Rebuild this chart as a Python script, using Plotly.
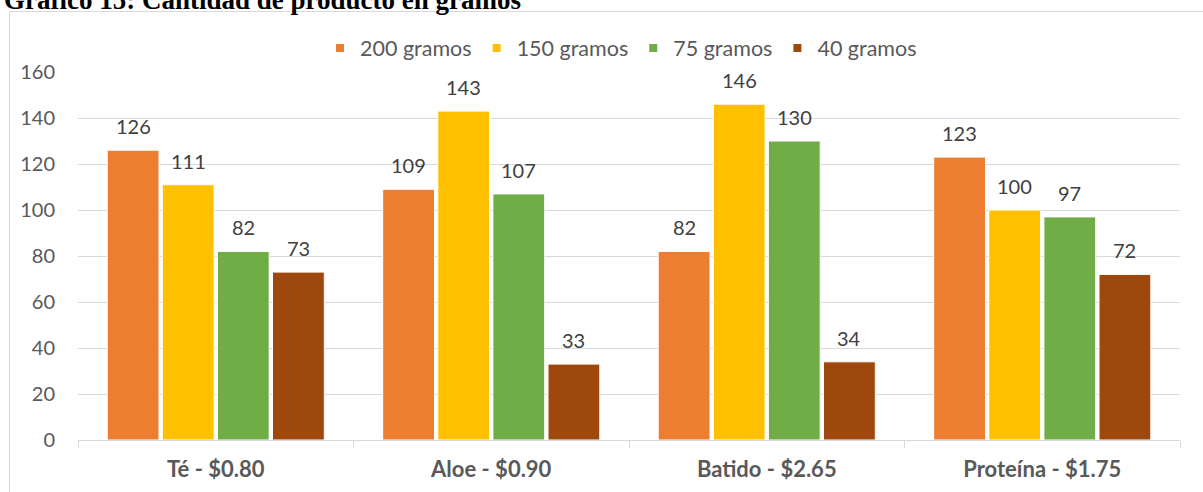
import plotly.graph_objects as go

# Product quantities sold by package size
categories = ["Té - $0.80", "Aloe - $0.90", "Batido - $2.65", "Proteína - $1.75"]
series_names = ["200 gramos", "150 gramos", "75 gramos", "40 gramos"]
g200 = [126, 109, 82, 123]
g150 = [111, 143, 146, 100]
g75 = [82, 107, 130, 97]
g40 = [73, 33, 34, 72]
y_ticks = [0, 20, 40, 60, 80, 100, 120, 140, 160]

series_values = [g200, g150, g75, g40]
colors = ["#ED7D31", "#FFC000", "#70AD47", "#9E480E"]

W, H = 1203, 492
M_L, M_R, M_T, M_B = 78, 23, 72, 52
plot_w = W - M_L - M_R
plot_h = H - M_T - M_B
BARGAP, GROUPGAP = 0.2, 0.06


def px_x(px):
    return (px - M_L) / plot_w


def px_y(py):
    return (H - M_B - py) / plot_h


FONT = "Lato"
fig = go.Figure()

for name, vals, col in zip(series_names, series_values, colors):
    fig.add_trace(go.Bar(
        x=categories, y=vals, name=name, showlegend=False,
        marker=dict(color=col, line=dict(color="white", width=1)),
        hoverinfo="x+y+name",
    ))

# legend entries with small square swatches
for name, col in zip(series_names, colors):
    fig.add_trace(go.Scatter(
        x=[None], y=[None], mode="markers", name=name,
        marker=dict(symbol="square", size=8, color=col),
    ))

# value labels above each bar
slot = plot_w / len(categories) * (1 - BARGAP) / len(series_names)
annotations = []
for i, vals in enumerate(series_values):
    offset = (i - (len(series_names) - 1) / 2) * slot
    for cat, v in zip(categories, vals):
        annotations.append(dict(
            x=cat, y=v, text=str(v), showarrow=False,
            xshift=offset, yshift=24, yanchor="middle",
            font=dict(family=FONT, size=20, color="#404040"),
        ))

annotations.append(dict(
    xref="paper", yref="paper", x=px_x(2), y=px_y(-0.5),
    xanchor="left", yanchor="middle", showarrow=False,
    text="<b>Gráfico 15: Cantidad de producto en gramos</b>",
    font=dict(family="Liberation Serif", size=27, color="#000000"),
))

# chart frame
shapes = [
    dict(type="line", xref="paper", yref="paper",
         x0=px_x(9.5), x1=px_x(W + 10), y0=px_y(11.5), y1=px_y(11.5),
         line=dict(color="#D9D9D9", width=1)),
    dict(type="line", xref="paper", yref="paper",
         x0=px_x(9.5), x1=px_x(9.5), y0=px_y(11.5), y1=px_y(H + 10),
         line=dict(color="#D9D9D9", width=1)),
]

fig.update_layout(
    width=W, height=H,
    margin=dict(l=M_L, r=M_R, t=M_T, b=M_B, pad=0),
    paper_bgcolor="white", plot_bgcolor="white",
    barmode="group", bargap=BARGAP, bargroupgap=GROUPGAP,
    font=dict(family=FONT, color="#595959"),
    legend=dict(
        orientation="h", x=px_x(621), y=px_y(48),
        xanchor="center", yanchor="middle",
        font=dict(family=FONT, size=21.5, color="#595959"),
        itemclick=False, itemdoubleclick=False,
    ),
    annotations=annotations,
    shapes=shapes,
    xaxis=dict(
        type="category", showgrid=False, automargin=False,
        showline=True, linecolor="#D9D9D9", linewidth=1,
        ticks="outside", tickson="boundaries", ticklen=7,
        tickcolor="#D9D9D9", tickwidth=1,
        tickfont=dict(family=FONT, size=22, color="#595959", weight="bold"),
        ticklabelstandoff=10,
    ),
    yaxis=dict(
        range=[0, 160], tickvals=y_ticks, automargin=False,
        showgrid=True, gridcolor="#D9D9D9", gridwidth=1,
        zeroline=False, showline=False, ticks="",
        tickfont=dict(family=FONT, size=20, color="#595959"),
        ticklabelstandoff=22,
    ),
)

fig.write_html("out.html")
